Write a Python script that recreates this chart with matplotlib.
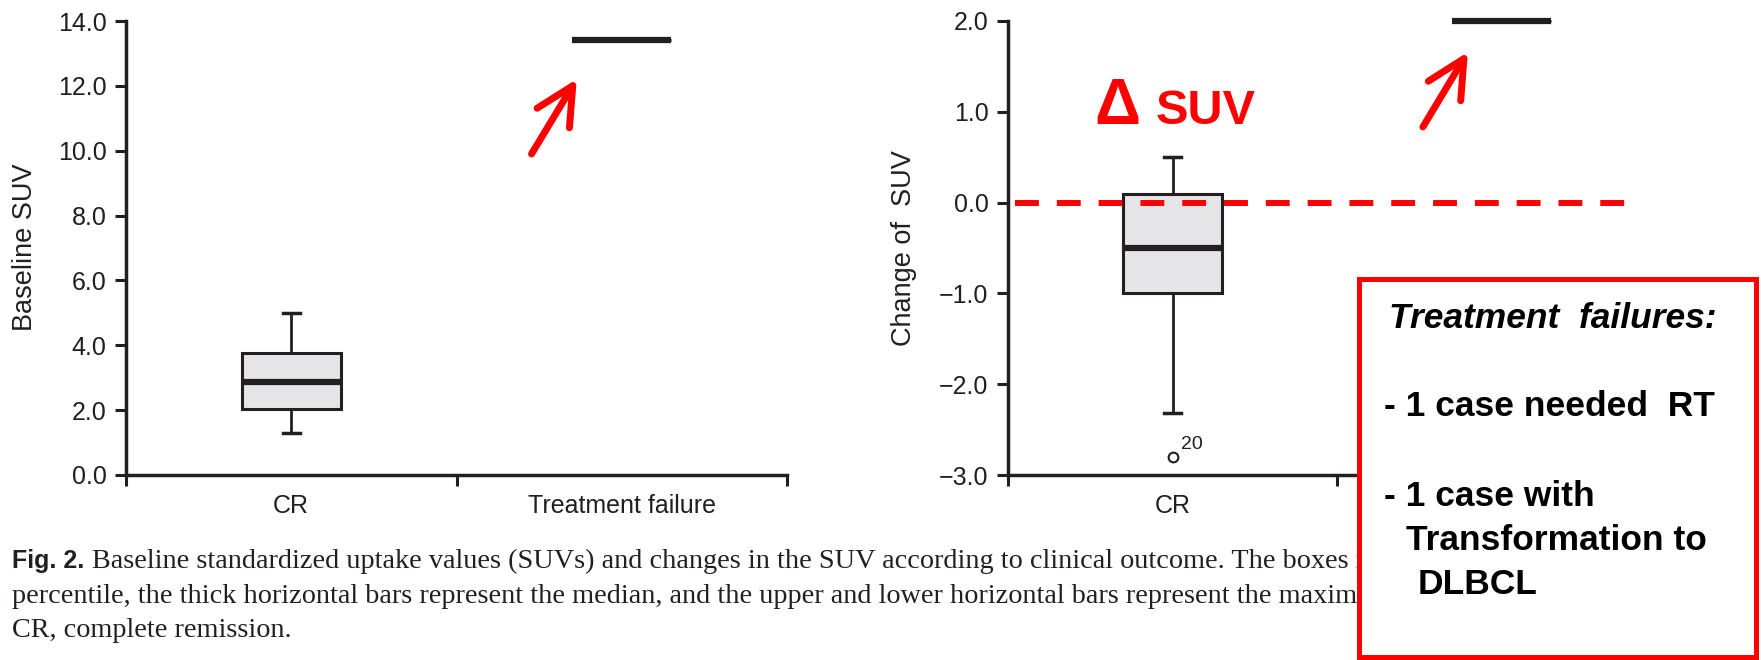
import matplotlib
matplotlib.use("Agg")
import matplotlib.pyplot as plt
from matplotlib.patches import Rectangle

plt.rcParams['font.family'] = ['Liberation Sans', 'DejaVu Sans']

W, H = 1761, 660
dark = '#231f20'

# data
categories = ["CR", "Treatment failure"]
base_low = [1.28, 13.4]
base_q1 = [2.03, 13.4]
base_med = [2.87, 13.4]
base_q3 = [3.76, 13.4]
base_high = [5.0, 13.4]

chg_low = [-2.32, 2.0]
chg_q1 = [-1.0, 2.0]
chg_med = [-0.5, 2.0]
chg_q3 = [0.1, 2.0]
chg_high = [0.5, 2.0]
chg_fliers = [[-2.8], []]
flier_ids = ["20"]

base_ticks = [0, 2, 4, 6, 8, 10, 12, 14]
chg_ticks = [-3, -2, -1, 0, 1, 2]


def make_stats(lo, q1, med, q3, hi, fl=None):
    out = []
    for i in range(len(lo)):
        out.append(dict(whislo=lo[i], q1=q1[i], med=med[i], q3=q3[i], whishi=hi[i],
                        fliers=fl[i] if fl else []))
    return out


def px(x, y):
    # pixel position -> figure fraction
    return x / W, 1 - y / H


def draw_boxes(ax, stats):
    art = ax.bxp(stats, positions=[0.5, 1.5], widths=0.3, capwidths=0.05,
                 patch_artist=True, manage_ticks=False,
                 boxprops=dict(facecolor='#e5e5e7', edgecolor=dark, linewidth=2.2),
                 medianprops=dict(color=dark, linewidth=4.5, solid_capstyle='butt'),
                 whiskerprops=dict(color=dark, linewidth=2),
                 capprops=dict(color=dark, linewidth=2.5),
                 flierprops=dict(marker='o', markerfacecolor='none', markeredgecolor=dark,
                                 markersize=7, markeredgewidth=1.5))
    for key in art:
        for a in art[key]:
            a.set_clip_on(False)


def style_axis(ax, ticks):
    for s in ['top', 'right']:
        ax.spines[s].set_visible(False)
    for s in ['left', 'bottom']:
        ax.spines[s].set_linewidth(2.5)
        ax.spines[s].set_color(dark)
    ax.set_xlim(0, 2)
    ax.set_xticks([0, 1, 2])
    ax.set_xticklabels([])
    ax.set_xticks([0.5, 1.5], minor=True)
    ax.set_xticklabels(categories, minor=True)
    ax.set_ylim(ticks[0], ticks[-1])
    ax.set_yticks(ticks)
    ax.set_yticklabels([f"{t:.1f}".replace("-", "\u2212") for t in ticks])
    ax.tick_params(which='major', direction='out', length=8, width=2.2, color=dark,
                   labelsize=18, labelcolor=dark, pad=6)
    ax.tick_params(axis='x', which='minor', length=0, labelsize=18, labelcolor=dark, pad=14)


fig = plt.figure(figsize=(W / 100, H / 100), dpi=100)

ax1 = fig.add_axes([126 / W, 185 / H, 661 / W, 454 / H])
ax2 = fig.add_axes([1008 / W, 185 / H, 658 / W, 454 / H])

draw_boxes(ax1, make_stats(base_low, base_q1, base_med, base_q3, base_high))
draw_boxes(ax2, make_stats(chg_low, chg_q1, chg_med, chg_q3, chg_high, chg_fliers))
style_axis(ax1, base_ticks)
style_axis(ax2, chg_ticks)

# outlier id
ax2.annotate(flier_ids[0], xy=(0.5, chg_fliers[0][0]), xytext=(6, 3), textcoords='offset points',
             fontsize=14, color=dark, ha='left', va='bottom')

# zero reference line
ax2.plot([0.021, 1.881], [0, 0], color='red', lw=4.3, linestyle=(0, (4, 3)),
         dash_capstyle='butt', clip_on=False, zorder=5)

# red arrows to the treatment-failure values
arrow = dict(arrowstyle='->,head_length=0.8,head_width=0.4', color='red', lw=5,
             mutation_scale=34, shrinkA=0, shrinkB=0, capstyle='round', joinstyle='round')
ax1.annotate("", xy=(1.364, 12.21), xytext=(1.227, 9.90), arrowprops=arrow)
ax2.annotate("", xy=(1.398, 1.659), xytext=(1.261, 0.833), arrowprops=arrow)

ax2.text(0.262, 0.866, "\u0394", fontsize=46, fontweight='bold', color='red',
         ha='left', va='baseline')
ax2.text(0.447, 0.866, "SUV", fontsize=35, fontweight='bold', color='red',
         ha='left', va='baseline')

fig.text(*px(25, 247), "Baseline SUV", rotation=90, fontsize=19.5, color=dark,
         ha='center', va='center')
fig.text(*px(904, 248), "Change of  SUV", rotation=90, fontsize=19.5, color=dark,
         ha='center', va='center')

# caption (partly hidden under the note box, as in the original)
cap_kw = dict(fontsize=20.3, color=dark, va='baseline', ha='left', family='Liberation Serif')
fig.text(*px(12, 568), "Fig. 2.", fontsize=18, fontweight='bold', color=dark,
         va='baseline', ha='left')
fig.text(*px(92, 568), "Baseline standardized uptake values (SUVs) and changes in the SUV "
         "according to clinical outcome. The boxes represent the 25th and 75th", **cap_kw)
fig.text(*px(12, 603), "percentile, the thick horizontal bars represent the median, and the "
         "upper and lower horizontal bars represent the maximum and minimum values.", **cap_kw)
fig.text(*px(12, 637), "CR, complete remission.", **cap_kw)

# note box
bx0, by0 = px(1359, 657)
bx1, by1 = px(1756, 279)
fig.add_artist(Rectangle((bx0, by0), bx1 - bx0, by1 - by0, transform=fig.transFigure,
                         facecolor='white', edgecolor='red', lw=3.6, zorder=10))
box_kw = dict(fontsize=25.5, fontweight='bold', color='black', va='center', ha='left', zorder=11)
fig.text(*px(1389, 318), "Treatment  failures:", style='italic', **box_kw)
fig.text(*px(1384, 406), "- 1 case needed  RT", **box_kw)
fig.text(*px(1384, 496), "- 1 case with", **box_kw)
fig.text(*px(1406, 541), "Transformation to", **box_kw)
fig.text(*px(1418, 585), "DLBCL", **box_kw)

fig.savefig('out.png', dpi=100)
